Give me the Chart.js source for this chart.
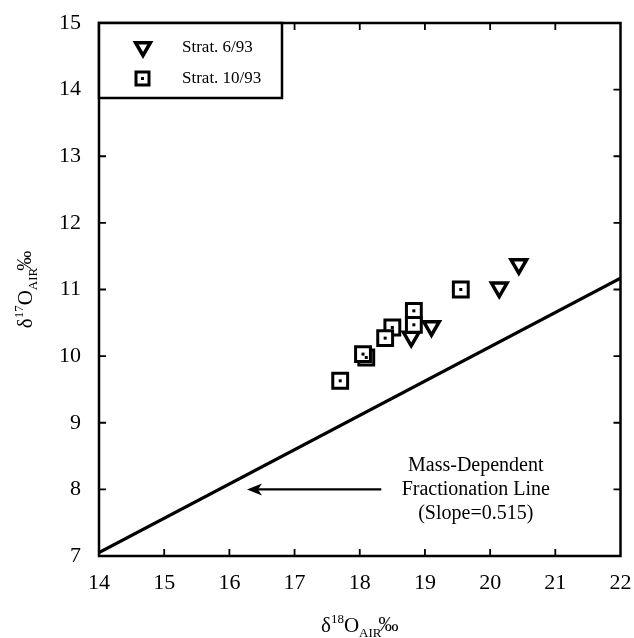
<!DOCTYPE html>
<html>
<head>
<meta charset="utf-8">
<script src="https://cdn.jsdelivr.net/npm/chart.js@4.4.1/dist/chart.umd.min.js"></script>
<style>
  html, body { margin: 0; padding: 0; background: #fff; }
  #wrap { width: 634px; height: 638px; }
</style>
</head>
<body>
<div id="wrap"><canvas id="chart"></canvas></div>
<script>
// Data

const xTicks = [14, 15, 16, 17, 18, 19, 20, 21, 22];
const yTicks = [7, 8, 9, 10, 11, 12, 13, 14, 15];

// Strat. 6/93 (triangles)
const juneD18O = [18.79, 19.10, 20.14, 20.44];
const juneD17O = [10.29, 10.45, 11.03, 11.38];

// Strat. 10/93 (squares)
const octD18O = [17.70, 18.10, 18.05, 18.50, 18.39, 18.83, 18.83, 19.55];
const octD17O = [9.63, 9.98, 10.03, 10.43, 10.27, 10.68, 10.47, 11.00];

// mass-dependent fractionation line (slope 0.515)
const mdflD18O = [14, 22];
const mdflD17O = [7.05, 11.17];

const serif = "'Liberation Serif', 'Times New Roman', serif";

function pts(xs, ys) {
    return xs.map((x, i) => ({ x: x, y: ys[i] }));
}

// axis title with super/subscripts
function drawRich(ctx, parts, cx, baseline) {
    let w = 0;
    parts.forEach(p => {
        ctx.font = p.size + 'px ' + serif;
        p.w = ctx.measureText(p.t).width;
        w += p.w + (p.gap || 0);
    });
    let x = cx - w / 2;
    ctx.textAlign = 'left';
    ctx.textBaseline = 'alphabetic';
    parts.forEach(p => {
        ctx.font = p.size + 'px ' + serif;
        ctx.fillText(p.t, x, baseline + (p.dy || 0));
        x += p.w + (p.gap || 0);
    });
}

function titleParts(iso) {
    return [
        { t: 'δ', size: 21 },
        { t: iso, size: 13, dy: -9 },
        { t: 'O', size: 21 },
        { t: 'AIR', size: 13, dy: 5, gap: -3 },
        { t: '‰', size: 20, dy: -1 }
    ];
}

function tri(ctx, x, y, r) {
    ctx.beginPath();
    ctx.moveTo(x - r * 0.87, y - r * 0.5);
    ctx.lineTo(x + r * 0.87, y - r * 0.5);
    ctx.lineTo(x, y + r);
    ctx.closePath();
    ctx.fill();
    ctx.stroke();
}

const framePlugin = {
    id: 'frame',
    afterDatasetsDraw(chart) {
        const ctx = chart.ctx;
        const a = chart.chartArea;
        const xs = chart.scales.x, ys = chart.scales.y;
        ctx.save();
        ctx.fillStyle = '#000';
        ctx.strokeStyle = '#000';

        // dots in the centre of the squares
        chart.getDatasetMeta(1).data.forEach(el => {
            ctx.fillRect(el.x - 1.5, el.y - 1.5, 3, 3);
        });

        // box
        ctx.lineWidth = 2.5;
        ctx.strokeRect(a.left, a.top, a.right - a.left, a.bottom - a.top);

        // inward ticks on four sides
        ctx.lineWidth = 1.8;
        const tl = 7;
        ctx.beginPath();
        xTicks.slice(1, -1).forEach(v => {
            const px = xs.getPixelForValue(v);
            ctx.moveTo(px, a.bottom); ctx.lineTo(px, a.bottom - tl);
            ctx.moveTo(px, a.top); ctx.lineTo(px, a.top + tl);
        });
        yTicks.slice(1, -1).forEach(v => {
            const py = ys.getPixelForValue(v);
            ctx.moveTo(a.left, py); ctx.lineTo(a.left + tl, py);
            ctx.moveTo(a.right, py); ctx.lineTo(a.right - tl, py);
        });
        ctx.stroke();

        // legend box
        const lx = a.left, ly = a.top, lw = 183, lh = 75;
        ctx.fillStyle = '#fff';
        ctx.fillRect(lx, ly, lw, lh);
        ctx.lineWidth = 2.5;
        ctx.strokeRect(lx, ly, lw, lh);
        ctx.lineWidth = 3.5;
        ctx.strokeStyle = '#000';
        tri(ctx, lx + 44, ly + 24, 8.5);
        ctx.fillStyle = '#fff';
        ctx.lineWidth = 3;
        ctx.fillRect(lx + 37, ly + 49, 13, 13);
        ctx.strokeRect(lx + 37, ly + 49, 13, 13);
        ctx.fillStyle = '#000';
        ctx.fillRect(lx + 42, ly + 54, 3, 3);
        ctx.font = '17px ' + serif;
        ctx.textAlign = 'left';
        ctx.textBaseline = 'middle';
        ctx.fillText('Strat. 6/93', lx + 83, ly + 25);
        ctx.fillText('Strat. 10/93', lx + 83, ly + 56);

        // annotation with arrow
        const ay = ys.getPixelForValue(8.0);
        const ax0 = xs.getPixelForValue(18.33), ax1 = xs.getPixelForValue(16.27);
        ctx.lineWidth = 2.2;
        ctx.beginPath();
        ctx.moveTo(ax0, ay); ctx.lineTo(ax1 + 8, ay);
        ctx.stroke();
        ctx.beginPath();
        ctx.moveTo(ax1, ay);
        ctx.lineTo(ax1 + 15, ay - 6);
        ctx.lineTo(ax1 + 11, ay);
        ctx.lineTo(ax1 + 15, ay + 6);
        ctx.closePath();
        ctx.fill();
        ctx.font = '20px ' + serif;
        ctx.textAlign = 'center';
        const tx = xs.getPixelForValue(19.78);
        ctx.fillText('Mass-Dependent', tx, ay - 24);
        ctx.fillText('Fractionation Line', tx, ay);
        ctx.fillText('(Slope=0.515)', tx, ay + 24);

        // axis titles
        drawRich(ctx, titleParts('18'), (a.left + a.right) / 2, 632);
        ctx.translate(32, (a.top + a.bottom) / 2);
        ctx.rotate(-Math.PI / 2);
        drawRich(ctx, titleParts('17'), 0, 0);
        ctx.restore();
    }
};

const config = {
    type: 'scatter',
    data: {
        datasets: [
            {
                label: 'Strat. 6/93',
                data: pts(juneD18O, juneD17O),
                pointStyle: 'triangle',
                rotation: 180,
                radius: 9,
                borderWidth: 3.5,
                borderColor: '#000',
                backgroundColor: '#fff',
                order: 2
            },
            {
                label: 'Strat. 10/93',
                data: pts(octD18O, octD17O),
                pointStyle: 'rect',
                radius: 10.5,
                borderWidth: 3,
                borderColor: '#000',
                backgroundColor: '#fff',
                order: 1
            },
            {
                type: 'line',
                label: 'Mass-Dependent Fractionation Line',
                data: pts(mdflD18O, mdflD17O),
                borderColor: '#000',
                borderWidth: 3.2,
                pointRadius: 0,
                order: 3
            }
        ]
    },
    options: {
        responsive: true,
        maintainAspectRatio: false,
        animation: false,
        events: [],
        layout: { padding: { left: 0, right: 10, top: 23, bottom: 0 } },
        plugins: { legend: { display: false }, tooltip: { enabled: false } },
        scales: {
            x: {
                type: 'linear',
                min: 14, max: 22,
                afterBuildTicks: s => { s.ticks = xTicks.map(v => ({ value: v })); },
                afterFit: s => { s.height = 82; s.paddingLeft = 0; s.paddingRight = 0; },
                grid: { display: false, drawTicks: false },
                border: { display: false },
                ticks: { color: '#000', padding: 14, font: { family: serif, size: 22 } }
            },
            y: {
                type: 'linear',
                min: 7, max: 15,
                afterBuildTicks: s => { s.ticks = yTicks.map(v => ({ value: v })); },
                afterFit: s => { s.width = 99; s.paddingTop = 0; s.paddingBottom = 0; },
                grid: { display: false, drawTicks: false },
                border: { display: false },
                ticks: { color: '#000', padding: 18, font: { family: serif, size: 22 } }
            }
        }
    },
    plugins: [framePlugin]
};

const ctx = document.getElementById('chart').getContext('2d');
const myChart = new Chart(ctx, config);
</script>
</body>
</html>
